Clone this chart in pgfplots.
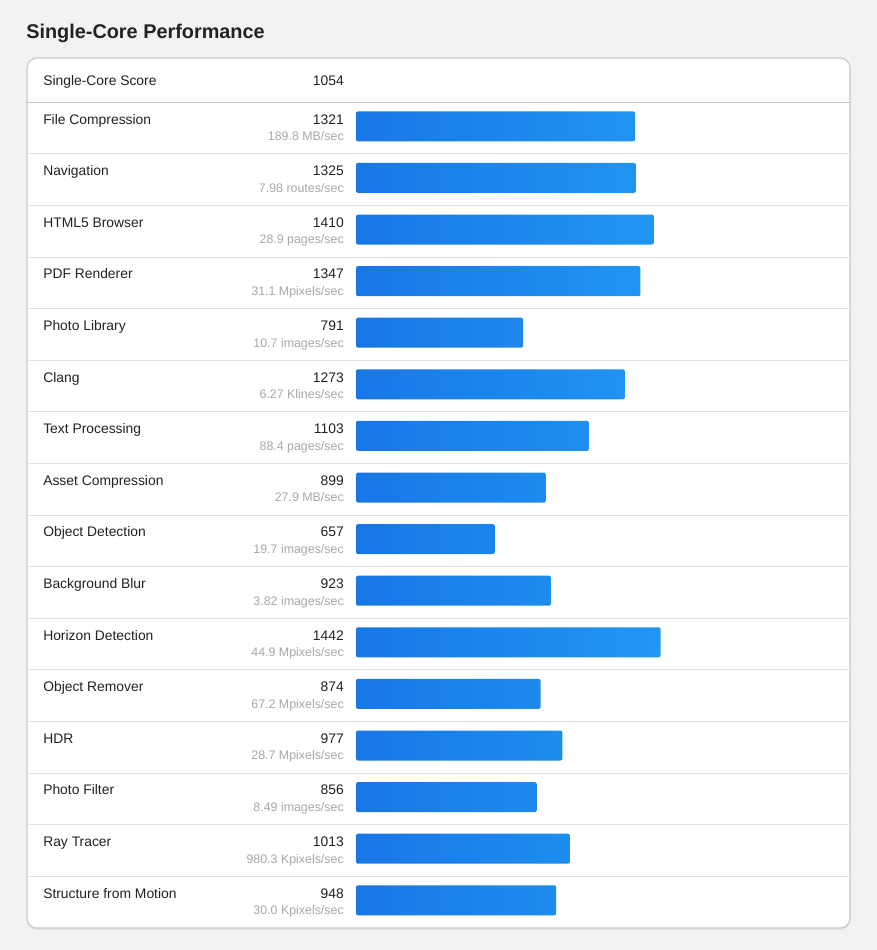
\documentclass[border=0pt]{standalone}
\usepackage{fontspec}
\setmainfont{Liberation Sans}
\usepackage{pgfplots}
\pgfplotsset{compat=1.18}
\definecolor{bgc}{HTML}{F2F2F2}
\definecolor{shadowc}{HTML}{E0E0E0}
\definecolor{cardborder}{HTML}{C9C9C9}
\definecolor{headline}{HTML}{C4C4C4}
\definecolor{rowline}{HTML}{E2E2E2}
\definecolor{textc}{HTML}{222222}
\definecolor{titlec}{HTML}{222222}
\definecolor{unitc}{HTML}{A8A8A8}
\definecolor{barL}{HTML}{1877E6}
\definecolor{barR}{HTML}{2196F3}
\begin{document}
\begin{tikzpicture}[x=0.75pt,y=-0.75pt]
\useasboundingbox (0,0) rectangle (877,950);
\fill[bgc] (0,0) rectangle (877,950);
\fill[shadowc, rounded corners=7.5pt] (26.5,59.5) rectangle (850.5,929.8);
\filldraw[fill=white, draw=cardborder, line width=0.8pt, rounded corners=7.5pt] (27,58) rectangle (850,928);
\node[anchor=base west, inner sep=0, text=titlec, font=\fontsize{14.9pt}{18pt}\selectfont\bfseries] at (26,38) {Single-Core Performance};
\node[anchor=base west, inner sep=0, text=textc, font=\fontsize{10.4pt}{12pt}\selectfont] at (43,85) {Single-Core Score};
\node[anchor=base east, inner sep=0, text=textc, font=\fontsize{10.4pt}{12pt}\selectfont] at (344,85) {1054};
\draw[headline, line width=0.8pt] (27,102.3) -- (850,102.3);
\foreach \k in {1,...,15}{
  \draw[rowline, line width=0.75pt] (27.5,{102.3+51.6*\k}) -- (849.5,{102.3+51.6*\k});
}
\foreach \n/\s/\u [count=\i] in {
  File Compression/1321/189.8 MB,
  Navigation/1325/7.98 routes,
  HTML5 Browser/1410/28.9 pages,
  PDF Renderer/1347/31.1 Mpixels,
  Photo Library/791/10.7 images,
  Clang/1273/6.27 Klines,
  Text Processing/1103/88.4 pages,
  Asset Compression/899/27.9 MB,
  Object Detection/657/19.7 images,
  Background Blur/923/3.82 images,
  Horizon Detection/1442/44.9 Mpixels,
  Object Remover/874/67.2 Mpixels,
  HDR/977/28.7 Mpixels,
  Photo Filter/856/8.49 images,
  Ray Tracer/1013/980.3 Kpixels,
  Structure from Motion/948/30.0 Kpixels}{
  \pgfmathsetmacro{\rt}{102.3+51.6*(\i-1)}
  \node[anchor=base west, inner sep=0, text=textc, font=\fontsize{10.4pt}{12pt}\selectfont] at (43,\rt+21.7) {\n};
  \node[anchor=base east, inner sep=0, text=textc, font=\fontsize{10.4pt}{12pt}\selectfont] at (344,\rt+21.7) {\s};
  \node[anchor=base east, inner sep=0, text=unitc, font=\fontsize{9.3pt}{11pt}\selectfont] at (344,\rt+38.4) {\u/sec};
}
\coordinate (A) at (356,100.5);
\begin{axis}[
  at={(A)}, anchor=north west,
  x=0.1584pt, y=38.7pt, y dir=reverse,
  xmin=0, xmax=2000, ymin=0.5, ymax=16.5,
  hide axis, clip=false,
  xbar, bar width=22.5pt,
]
\addplot[draw=none, left color=barL, right color=barR, rounded corners=1.5pt] coordinates {
  (1321,1) (1325,2) (1410,3) (1347,4) (791,5) (1273,6) (1103,7) (899,8)
  (657,9) (923,10) (1442,11) (874,12) (977,13) (856,14) (1013,15) (948,16)
};
\end{axis}
\end{tikzpicture}
\end{document}
